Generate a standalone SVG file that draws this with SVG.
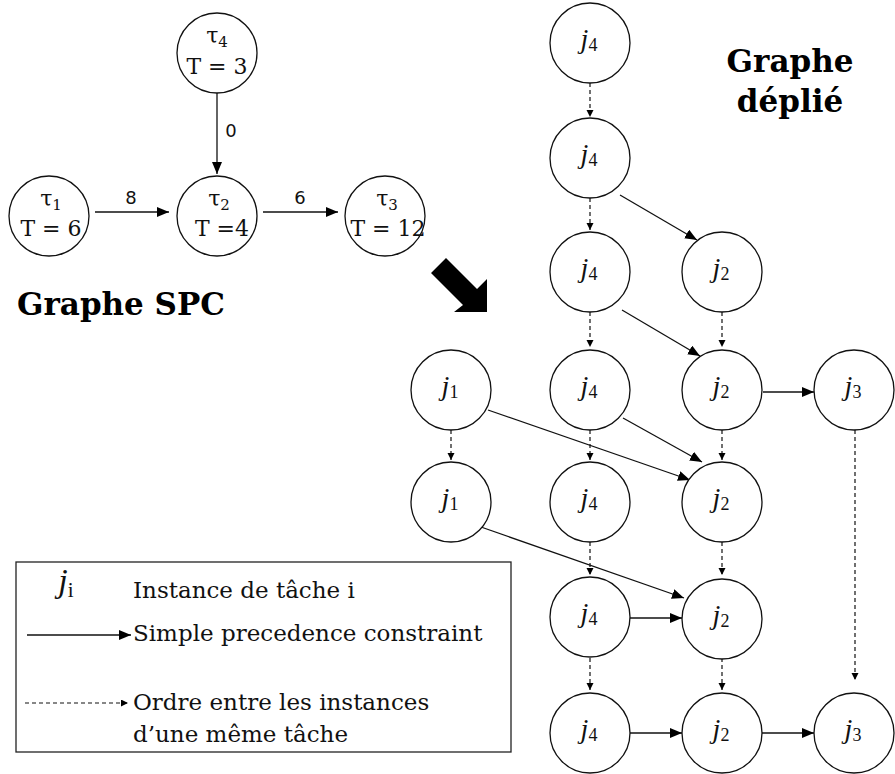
<svg xmlns="http://www.w3.org/2000/svg" width="895" height="774" viewBox="0 0 895 774">
<defs>
<marker id="ah" markerUnits="userSpaceOnUse" markerWidth="13" markerHeight="11" refX="12" refY="5" orient="auto"><path d="M0,0 L12,5 L0,10 z" fill="#000"/></marker>
<marker id="ahs" markerUnits="userSpaceOnUse" markerWidth="8" markerHeight="8" refX="7" refY="3.5" orient="auto"><path d="M0,0 L7,3.5 L0,7 z" fill="#000"/></marker>
</defs>
<style>
circle{fill:#fff;stroke:#111;stroke-width:1.3}
.s{stroke:#111;stroke-width:1.3;fill:none;marker-end:url(#ah)}
.d{stroke:#111;stroke-width:1.2;fill:none;stroke-dasharray:4 3;marker-end:url(#ahs)}
.tau{font-family:"DejaVu Serif",serif;font-size:22px;text-anchor:middle;fill:#111}
.tau .n{font-size:15px}
.lab{font-family:"DejaVu Sans",sans-serif;font-size:18px;text-anchor:middle;fill:#111}
.j{font-family:"Liberation Serif",serif;font-size:28px;text-anchor:middle;fill:#111}
.j .v{font-style:italic}
.j .n{font-size:18px}
.title{font-family:"DejaVu Serif",serif;font-size:31px;font-weight:bold;fill:#000}
.leg{font-family:"DejaVu Serif",serif;font-size:23px;fill:#111}
</style>
<rect width="895" height="774" fill="#fff"/>

<g id="spc-edges">
<line class="s" x1="217" y1="93" x2="217" y2="174"/>
<line class="s" x1="95" y1="212" x2="169" y2="212"/>
<line class="s" x1="263" y1="212" x2="338" y2="212"/>
<text class="lab" x="231" y="137">0</text>
<text class="lab" x="131" y="204">8</text>
<text class="lab" x="300" y="204">6</text>
</g>
<g id="tau4"><circle cx="217" cy="53" r="40"/><text class="tau" x="217" y="43">τ<tspan class="n" dy="4">4</tspan></text><text class="tau" x="217" y="74">T = 3</text></g>
<g id="tau1"><circle cx="49" cy="216" r="40"/><text class="tau" x="51" y="206">τ<tspan class="n" dy="4">1</tspan></text><text class="tau" x="51" y="236">T = 6</text></g>
<g id="tau2"><circle cx="217" cy="216" r="40"/><text class="tau" x="219" y="206">τ<tspan class="n" dy="4">2</tspan></text><text class="tau" x="222" y="236">T =4</text></g>
<g id="tau3"><circle cx="385" cy="216" r="40"/><text class="tau" x="387" y="206">τ<tspan class="n" dy="4">3</tspan></text><text class="tau" x="388" y="236">T = 12</text></g>

<text class="title" x="17" y="315">Graphe SPC</text>
<text class="title" x="790" y="72" text-anchor="middle">Graphe</text>
<text class="title" x="790" y="112" text-anchor="middle">déplié</text>

<polygon id="big-arrow" points="431,273 446,258 477,289 487,279 487,312 454,312 463,305" fill="#000"/>

<g id="unfolded-edges">
<line class="d" x1="590" y1="83" x2="590" y2="117"/>
<line class="d" x1="590" y1="198" x2="590" y2="230"/>
<line class="d" x1="590" y1="312" x2="590" y2="347"/>
<line class="d" x1="590" y1="430" x2="590" y2="460"/>
<line class="d" x1="590" y1="542" x2="590" y2="575"/>
<line class="d" x1="590" y1="658" x2="590" y2="690"/>
<line class="d" x1="722" y1="312" x2="722" y2="347"/>
<line class="d" x1="722" y1="430" x2="722" y2="460"/>
<line class="d" x1="722" y1="542" x2="722" y2="575"/>
<line class="d" x1="722" y1="658" x2="722" y2="690"/>
<line class="d" x1="451" y1="430" x2="451" y2="460"/>
<line class="d" x1="855" y1="430" x2="855" y2="680"/>
<line class="s" x1="620" y1="195" x2="697" y2="240"/>
<line class="s" x1="622" y1="310" x2="700" y2="356"/>
<line class="s" x1="488" y1="410" x2="690" y2="480"/>
<line class="s" x1="623" y1="418" x2="702" y2="462"/>
<line class="s" x1="481" y1="527" x2="684" y2="598"/>
<line class="s" x1="763" y1="392" x2="814" y2="392"/>
<line class="s" x1="630" y1="618" x2="682" y2="618"/>
<line class="s" x1="630" y1="733" x2="682" y2="733"/>
<line class="s" x1="762" y1="733" x2="814" y2="733"/>
</g>

<g id="j4-1"><circle cx="590" cy="43" r="40"/><text class="j" x="589" y="48"><tspan class="v">j</tspan><tspan class="n" dy="3">4</tspan></text></g>
<g id="j4-2"><circle cx="590" cy="158" r="40"/><text class="j" x="589" y="163"><tspan class="v">j</tspan><tspan class="n" dy="3">4</tspan></text></g>
<g id="j4-3"><circle cx="590" cy="272" r="40"/><text class="j" x="589" y="277"><tspan class="v">j</tspan><tspan class="n" dy="3">4</tspan></text></g>
<g id="j2-3"><circle cx="722" cy="272" r="40"/><text class="j" x="721" y="277"><tspan class="v">j</tspan><tspan class="n" dy="3">2</tspan></text></g>
<g id="j1-4"><circle cx="451" cy="390" r="40"/><text class="j" x="450" y="395"><tspan class="v">j</tspan><tspan class="n" dy="3">1</tspan></text></g>
<g id="j4-4"><circle cx="590" cy="390" r="40"/><text class="j" x="589" y="395"><tspan class="v">j</tspan><tspan class="n" dy="3">4</tspan></text></g>
<g id="j2-4"><circle cx="722" cy="390" r="40"/><text class="j" x="721" y="395"><tspan class="v">j</tspan><tspan class="n" dy="3">2</tspan></text></g>
<g id="j3-4"><circle cx="854" cy="390" r="40"/><text class="j" x="853" y="395"><tspan class="v">j</tspan><tspan class="n" dy="3">3</tspan></text></g>
<g id="j1-5"><circle cx="451" cy="502" r="40"/><text class="j" x="450" y="507"><tspan class="v">j</tspan><tspan class="n" dy="3">1</tspan></text></g>
<g id="j4-5"><circle cx="590" cy="502" r="40"/><text class="j" x="589" y="507"><tspan class="v">j</tspan><tspan class="n" dy="3">4</tspan></text></g>
<g id="j2-5"><circle cx="722" cy="502" r="40"/><text class="j" x="721" y="507"><tspan class="v">j</tspan><tspan class="n" dy="3">2</tspan></text></g>
<g id="j4-6"><circle cx="590" cy="617" r="40"/><text class="j" x="589" y="622"><tspan class="v">j</tspan><tspan class="n" dy="3">4</tspan></text></g>
<g id="j2-6"><circle cx="722" cy="619" r="40"/><text class="j" x="721" y="624"><tspan class="v">j</tspan><tspan class="n" dy="3">2</tspan></text></g>
<g id="j4-7"><circle cx="590" cy="733" r="40"/><text class="j" x="589" y="738"><tspan class="v">j</tspan><tspan class="n" dy="3">4</tspan></text></g>
<g id="j2-7"><circle cx="722" cy="733" r="40"/><text class="j" x="721" y="738"><tspan class="v">j</tspan><tspan class="n" dy="3">2</tspan></text></g>
<g id="j3-7"><circle cx="854" cy="733" r="40"/><text class="j" x="853" y="738"><tspan class="v">j</tspan><tspan class="n" dy="3">3</tspan></text></g>

<g id="legend">
<rect x="16" y="562" width="495" height="190" fill="#fff" stroke="#222" stroke-width="1.3"/>
<text class="j" x="66" y="592" style="font-size:34px"><tspan class="v">j</tspan><tspan style="font-size:21px" dy="5">i</tspan></text>
<text class="leg" x="133" y="598">Instance de tâche i</text>
<line class="s" x1="27" y1="635" x2="131" y2="635"/>
<text class="leg" x="133" y="641">Simple precedence constraint</text>
<line class="d" x1="25" y1="703" x2="128" y2="703"/>
<text class="leg" x="133" y="710">Ordre entre les instances</text>
<text class="leg" x="133" y="742">d’une même tâche</text>
</g>
</svg>
